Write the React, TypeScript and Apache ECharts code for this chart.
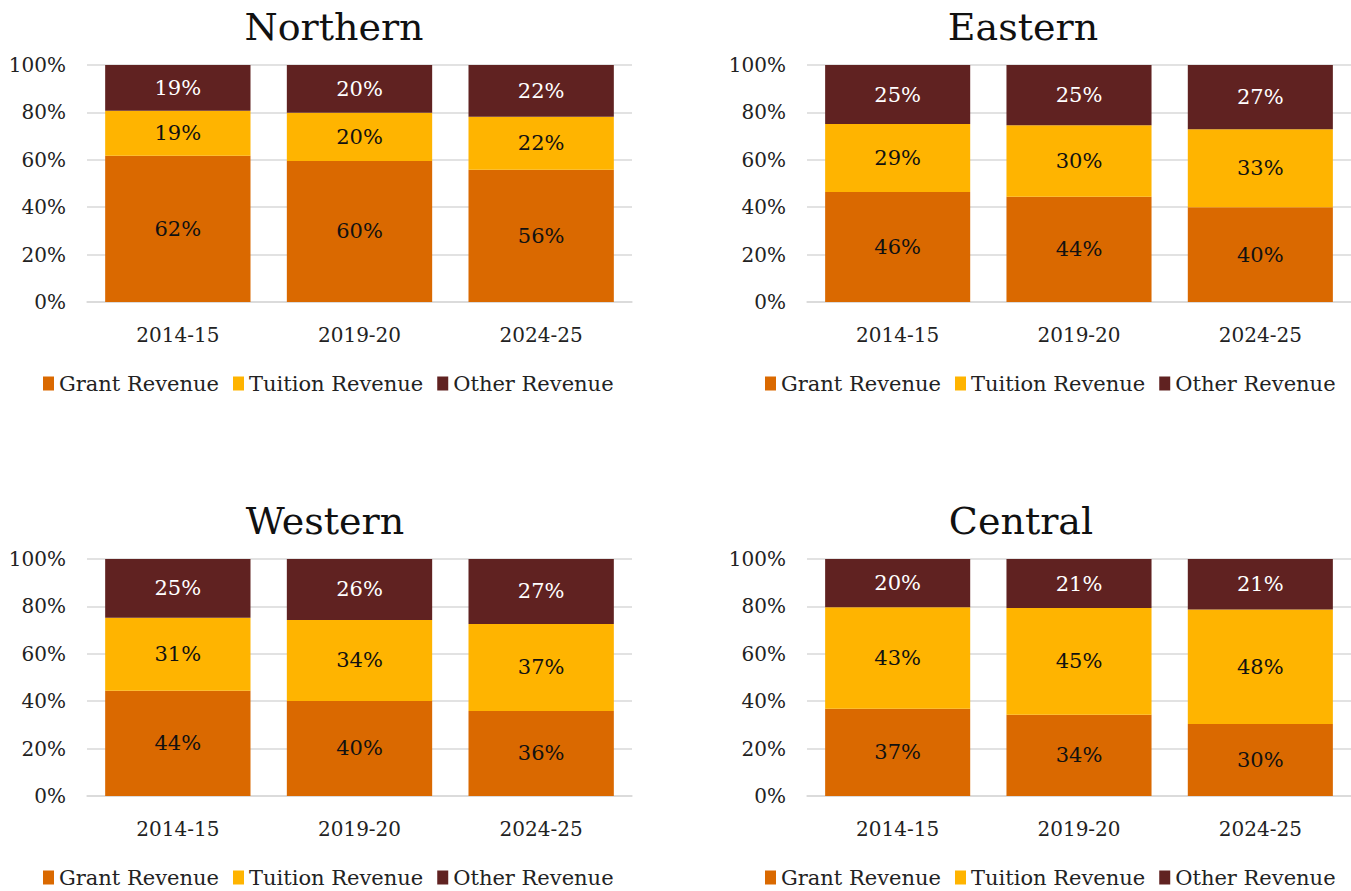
import React, { useEffect, useRef } from "react";
import * as echarts from "echarts";

const categories = ["2014-15", "2019-20", "2024-25"];
const seriesNames = ["Grant Revenue", "Tuition Revenue", "Other Revenue"];
const yTicks = [0, 20, 40, 60, 80, 100];

const northernGrant = [61.7, 59.5, 55.8];
const northernTuition = [19.0, 20.4, 22.4];
const northernOther = [19.3, 20.1, 21.8];

const easternGrant = [46.4, 44.4, 40.0];
const easternTuition = [28.7, 30.2, 32.9];
const easternOther = [24.9, 25.4, 27.1];

const westernGrant = [44.4, 40.1, 35.9];
const westernTuition = [30.8, 34.2, 36.7];
const westernOther = [24.8, 25.7, 27.4];

const centralGrant = [36.8, 34.3, 30.4];
const centralTuition = [42.8, 45.0, 48.3];
const centralOther = [20.4, 20.7, 21.3];

const FONT = "'DejaVu Serif', Georgia, serif";
const COLORS = ["#DA6900", "#FFB400", "#602221"];
const LABEL_COLORS = ["#111111", "#111111", "#ffffff"];

const panels = [
  { title: "Northern", data: [northernGrant, northernTuition, northernOther], left: 87, top: 65, titleX: 334, titleY: 27, legendLeft: 38, legendTop: 368 },
  { title: "Eastern", data: [easternGrant, easternTuition, easternOther], left: 807, top: 65, titleX: 1023, titleY: 27, legendLeft: 760, legendTop: 368 },
  { title: "Western", data: [westernGrant, westernTuition, westernOther], left: 87, top: 559, titleX: 325, titleY: 521, legendLeft: 38, legendTop: 862 },
  { title: "Central", data: [centralGrant, centralTuition, centralOther], left: 807, top: 559, titleX: 1021, titleY: 521, legendLeft: 760, legendTop: 862 },
];

export default function App() {
  const ref = useRef<HTMLDivElement>(null);
  useEffect(() => {
    if (!ref.current) return;
    const chart = echarts.init(ref.current, null, { renderer: "svg" });
    const grids: any[] = [];
    const xAxes: any[] = [];
    const yAxes: any[] = [];
    const series: any[] = [];
    const legends: any[] = [];
    const graphics: any[] = [];
    panels.forEach((p, i) => {
      grids.push({ left: p.left, top: p.top, width: 545, height: 237 });
      xAxes.push({
        type: "category",
        gridIndex: i,
        data: categories,
        axisTick: { show: false },
        axisLine: { lineStyle: { color: "#d9d9d9", width: 1.5 } },
        axisLabel: { color: "#222", fontFamily: FONT, fontSize: 20, margin: 23 },
      });
      yAxes.push({
        type: "value",
        gridIndex: i,
        min: yTicks[0],
        max: yTicks[yTicks.length - 1],
        interval: 20,
        axisLine: { show: false },
        axisTick: { show: false },
        splitLine: { lineStyle: { color: "#d9d9d9", width: 1.5 } },
        axisLabel: { color: "#222", fontFamily: FONT, fontSize: 20, margin: 21, formatter: "{value}%" },
      });
      p.data.forEach((vals, k) => {
        series.push({
          type: "bar",
          name: seriesNames[k],
          xAxisIndex: i,
          yAxisIndex: i,
          stack: "s" + i,
          barWidth: "80%",
          data: vals,
          itemStyle: { color: COLORS[k] },
          label: {
            show: true,
            position: "inside",
            color: LABEL_COLORS[k],
            fontFamily: FONT,
            fontSize: 21,
            formatter: (d: any) => Math.round(d.value) + "%",
          },
        });
      });
      legends.push({
        data: seriesNames,
        left: p.legendLeft,
        top: p.legendTop,
        icon: "rect",
        itemWidth: 11,
        itemHeight: 14,
        itemGap: 14,
        textStyle: { color: "#222", fontFamily: FONT, fontSize: 21 },
        selectedMode: false,
      });
      graphics.push({
        type: "text",
        x: p.titleX,
        y: p.titleY,
        style: {
          text: p.title,
          font: "38px " + FONT,
          fill: "#111",
          textAlign: "center",
          textVerticalAlign: "middle",
        },
      });
    });
    chart.setOption({
      animation: false,
      backgroundColor: "#ffffff",
      grid: grids,
      xAxis: xAxes,
      yAxis: yAxes,
      legend: legends,
      series,
      graphic: graphics,
    });
    return () => chart.dispose();
  }, []);
  return (
    <div
      ref={ref}
      style={{ position: "fixed", left: 0, top: 0, width: 1351, height: 891, background: "#fff" }}
    />
  );
}
